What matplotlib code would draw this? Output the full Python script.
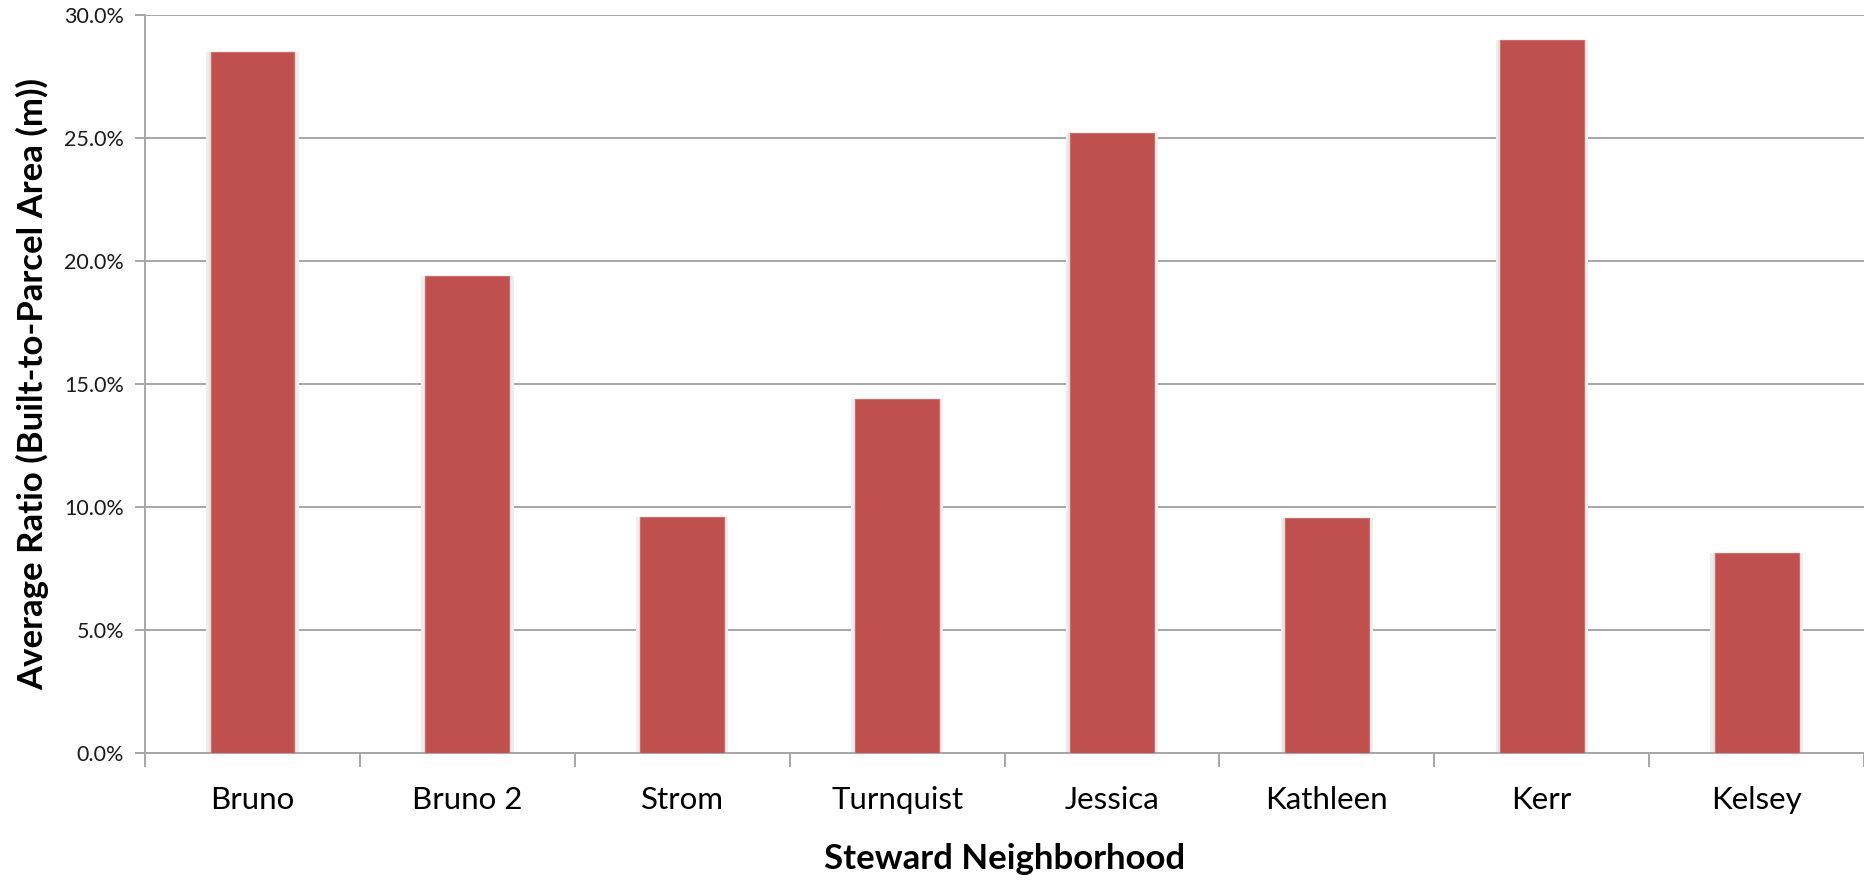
import matplotlib
matplotlib.use("Agg")
import matplotlib.pyplot as plt
from matplotlib.ticker import FixedLocator, FuncFormatter
import numpy as np

# average built-to-parcel ratio per steward neighborhood (percent)
neighborhoods = ["Bruno", "Bruno 2", "Strom", "Turnquist", "Jessica", "Kathleen", "Kerr", "Kelsey"]
ratios = [28.5, 19.4, 9.6, 14.4, 25.2, 9.55, 29.0, 8.15]
y_ticks = [0, 5, 10, 15, 20, 25, 30]

bar_color = "#C0504D"
grid_color = "#a6a6a6"

plt.rcParams["font.family"] = ["Lato", "DejaVu Sans"]

fig = plt.figure(figsize=(18.65, 8.9), dpi=100)
ax = fig.add_axes([145 / 1865, 1 - 753 / 890, 1 - 145 / 1865 - 0.0005, (753 - 15) / 890])

x = np.arange(len(neighborhoods))

# soft halo behind each bar, then the bar itself
ax.bar(x, ratios, width=0.43, color="#eeeeee", zorder=2)
ax.bar(x, ratios, width=0.405, color="#e2e2e2", zorder=2)
ax.bar(x, ratios, width=0.39, color=bar_color, edgecolor="#d46a67", linewidth=0.8, zorder=3)

ax.set_xlim(-0.5, len(neighborhoods) - 0.5)
ax.set_ylim(0, 30)

ax.yaxis.set_major_locator(FixedLocator(y_ticks))
ax.yaxis.set_major_formatter(FuncFormatter(lambda v, p: f"{v:.1f}%"))
ax.grid(axis="y", color=grid_color, linewidth=1.4, zorder=1)
ax.set_axisbelow(True)

ax.set_xticks(x)
ax.set_xticklabels(neighborhoods)
ax.xaxis.set_minor_locator(FixedLocator(np.arange(len(neighborhoods) + 1) - 0.5))
ax.tick_params(axis="x", which="major", length=0, pad=24, labelsize=22.5, labelcolor="#000000")
ax.tick_params(axis="x", which="minor", length=10, width=1.4, color=grid_color)
ax.tick_params(axis="y", length=7, width=1.4, color=grid_color, pad=8, labelsize=15.5, labelcolor="#1a1a1a")

for side in ["top", "right"]:
    ax.spines[side].set_visible(False)
for side in ["left", "bottom"]:
    ax.spines[side].set_color(grid_color)
    ax.spines[side].set_linewidth(1.4)

ax.set_xlabel("Steward Neighborhood", fontsize=25, fontweight="bold")
ax.set_ylabel("Average Ratio (Built-to-Parcel Area (m))", fontsize=25, fontweight="bold")
ax.xaxis.set_label_coords(0.5, -0.122)
ax.yaxis.set_label_coords(-0.056, 0.5)

fig.savefig("out.png", dpi=100, facecolor="white")
